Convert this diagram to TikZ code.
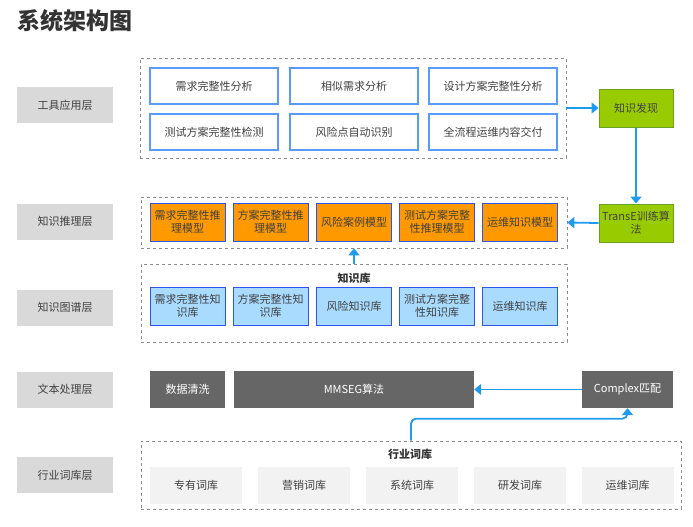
\documentclass[tikz,border=0pt]{standalone}
\usepackage{fontspec}
\setmainfont{Noto Sans CJK SC}
\usepackage{tikz}
\usetikzlibrary{arrows.meta}
\definecolor{layergray}{HTML}{D9D9D9}
\definecolor{txtgray}{HTML}{404040}
\definecolor{toolblue}{HTML}{5B9BF8}
\definecolor{edgeblue}{HTML}{2F55E8}
\definecolor{modelorange}{HTML}{FF9900}
\definecolor{kbblue}{HTML}{A9DBFF}
\definecolor{greenfill}{HTML}{99CC00}
\definecolor{greenedge}{HTML}{6AA121}
\definecolor{procgray}{HTML}{666666}
\definecolor{lexgray}{HTML}{F2F2F2}
\definecolor{arrowblue}{HTML}{1E9BF0}
\tikzset{
	boxtext/.style={font=\fontsize{11}{13}\selectfont, text=txtgray, align=center, inner sep=1pt},
	layerbox/.style={boxtext, fill=layergray, minimum width=96, minimum height=36},
	toolbox/.style={boxtext, draw=toolblue, line width=1.2pt, fill=white, minimum width=128, minimum height=36},
	modelbox/.style={boxtext, draw=edgeblue, line width=1pt, fill=modelorange, minimum width=75, minimum height=38},
	kbbox/.style={boxtext, draw=edgeblue, line width=1pt, fill=kbblue, minimum width=75, minimum height=38},
	greenbox/.style={boxtext, draw=greenedge, line width=1pt, fill=greenfill, minimum width=74, minimum height=38},
	procbox/.style={boxtext, text=white, fill=procgray, minimum height=37},
	lexbox/.style={boxtext, fill=lexgray, minimum width=92, minimum height=37},
	groupbox/.style={draw=black!45, dashed, line width=0.7pt},
	grouptitle/.style={font=\fontsize{11}{13}\selectfont\bfseries, text=black!80},
	flowarrow/.style={draw=arrowblue, line width=1.8pt, -{Triangle[length=7pt,width=11pt]}}
}
\begin{document}
\begin{tikzpicture}[x=1pt,y=-1pt]
			\useasboundingbox (0,0) rectangle (693,527);
			%%%%% TITLE %%%%%
			\node[anchor=west, inner sep=0, font=\fontsize{23}{26}\selectfont\bfseries, text=black!80] (title) at (17,21) {系统架构图};
			
			%%%%% LAYERS %%%%%
			\node[layerbox] (toollayer) at (65,105) {工具应用层};
			\node[layerbox] (reasonlayer) at (65,221.5) {知识推理层};
			\node[layerbox] (kglayer) at (65,307.5) {知识图谱层};
			\node[layerbox] (textlayer) at (65,389.5) {文本处理层};
			\node[layerbox] (lexlayer) at (65,475) {行业词库层};
			
			%%%%% TOOLS %%%%%
			\node[groupbox, minimum width=426, minimum height=100] (toolgrp) at (353,108) {};
			\node[toolbox] (reqana) at (214,86) {需求完整性分析};
			\node[toolbox] (simana) at (354,86) {相似需求分析};
			\node[toolbox] (designana) at (493,86) {设计方案完整性分析};
			\node[toolbox] (testcheck) at (214,132) {测试方案完整性检测};
			\node[toolbox] (riskid) at (354,132) {风险点自动识别};
			\node[toolbox] (delivery) at (493,132) {全流程运维内容交付};
			
			\node[greenbox] (discover) at (636,108) {知识发现};
			\node[greenbox] (transe) at (636,223) {TransE训练算\\法};
			
			%%%%% REASONING %%%%%
			\node[groupbox, minimum width=426, minimum height=51] (reasongrp) at (354,222.5) {};
			\node[modelbox] (reqmodel) at (187.5,222) {需求完整性推\\理模型};
			\node[modelbox] (planmodel) at (270.5,222) {方案完整性推\\理模型};
			\node[modelbox] (riskmodel) at (354,222) {风险案例模型};
			\node[modelbox] (testmodel) at (437,222) {测试方案完整\\性推理模型};
			\node[modelbox] (opsmodel) at (520,222) {运维知识模型};
			
			%%%%% KNOWLEDGE BASE %%%%%
			\node[groupbox, minimum width=426, minimum height=78] (kggrp) at (354,303) {};
			\node[grouptitle] (kgtitle) at (354,278) {知识库};
			\node[kbbox] (reqkb) at (187.5,306) {需求完整性知\\识库};
			\node[kbbox] (plankb) at (270.5,306) {方案完整性知\\识库};
			\node[kbbox] (riskkb) at (354,306) {风险知识库};
			\node[kbbox] (testkb) at (437,306) {测试方案完整\\性知识库};
			\node[kbbox] (opskb) at (520,306) {运维知识库};
			
			%%%%% TEXT PROCESSING %%%%%
			\node[procbox, minimum width=75] (clean) at (187.5,389.5) {数据清洗};
			\node[procbox, minimum width=240] (mmseg) at (354,389.5) {MMSEG算法};
			\node[procbox, minimum width=91] (complex) at (627.5,389.5) {Complex匹配};
			
			%%%%% LEXICON %%%%%
			\node[groupbox, minimum width=540, minimum height=68] (lexgrp) at (411,475) {};
			\node[grouptitle] (lextitle) at (410,454) {行业词库};
			\node[lexbox] (ownlex) at (196,485.5) {专有词库};
			\node[lexbox] (salelex) at (304,485.5) {营销词库};
			\node[lexbox] (syslex) at (412,485.5) {系统词库};
			\node[lexbox] (devlex) at (520,485.5) {研发词库};
			\node[lexbox] (opslex) at (627.5,485.5) {运维词库};
			
			%%%%% ARROWS %%%%%
			\draw[flowarrow] (toolgrp.east) -- (discover.west);
			\draw[flowarrow] (discover.south) -- (transe.north);
			\draw[flowarrow] (transe.west) -- (reasongrp.east);
			\draw[flowarrow] (kggrp.north) -- (reasongrp.south);
			\draw[flowarrow] (complex.west) -- (mmseg.east);
			\draw[flowarrow, rounded corners=5pt] (lexgrp.north) -- ++(0,-22) -| (complex.south);
		\end{tikzpicture}
\end{document}
